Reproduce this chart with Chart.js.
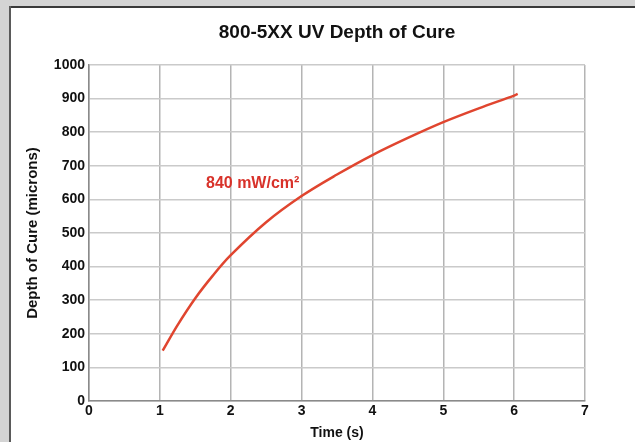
<!DOCTYPE html>
<html>
<head>
<meta charset="utf-8">
<script src="https://cdn.jsdelivr.net/npm/chart.js@4/dist/chart.umd.min.js"></script>
<style>
  html, body { margin: 0; padding: 0; background: #d4d4d4; }
  #wrap { position: absolute; left: 0; top: 0; width: 635px; height: 442px; }
</style>
</head>
<body>
<div id="wrap"><canvas id="cure" width="635" height="442"></canvas></div>
<script>
// time (s) vs depth of cure (microns)
const timeSec = [1.04, 1.25, 1.5, 1.75, 2, 2.5, 3, 3.5, 4, 4.5, 5, 5.5, 6, 6.05]
const depthMicrons = [150, 226, 306, 374, 434, 532, 610, 674, 732, 783, 830, 871, 909, 914]
const seriesLabel = '840 mW/cm\u00B2'
const chartTitle = '800-5XX UV Depth of Cure'
const xTicks = [0, 1, 2, 3, 4, 5, 6, 7]
const yTicks = [0, 100, 200, 300, 400, 500, 600, 700, 800, 900, 1000]

const FONT = "'Liberation Sans', Arial, sans-serif"

// grey page with white panel behind the chart
const panel = {
    id: 'panel',
    beforeDraw(chart) {
        const ctx = chart.ctx
        ctx.save()
        ctx.fillStyle = '#d4d4d4'
        ctx.fillRect(0, 0, chart.width, chart.height)
        ctx.fillStyle = '#ffffff'
        ctx.fillRect(10, 8, chart.width - 10, chart.height - 8)
        ctx.fillStyle = '#3a3a3a'
        ctx.fillRect(9, 6, chart.width - 9, 2)
        ctx.fillStyle = '#5a5a5a'
        ctx.fillRect(9, 6, 2, chart.height - 6)
        ctx.restore()
    }
}

// title centred over the plot, plus series name next to the curve
const labels = {
    id: 'labels',
    afterDatasetsDraw(chart) {
        const ctx = chart.ctx
        const area = chart.chartArea
        ctx.save()
        ctx.textAlign = 'center'
        ctx.textBaseline = 'middle'
        ctx.fillStyle = '#111'
        ctx.font = 'bold 19px ' + FONT
        ctx.fillText(chartTitle, (area.left + area.right) / 2, 33)

        const x = chart.scales.x.getPixelForValue(2.31)
        const y = chart.scales.y.getPixelForValue(648)
        ctx.fillStyle = '#d8322a'
        ctx.font = 'bold 16px ' + FONT
        ctx.fillText(seriesLabel, x, y)
        ctx.restore()
    }
}

new Chart(document.getElementById('cure'), {
    type: 'scatter',
    data: {
        datasets: [{
            label: seriesLabel,
            data: timeSec.map((t, i) => ({ x: t, y: depthMicrons[i] })),
            showLine: true,
            borderColor: '#e0452f',
            borderWidth: 2.5,
            pointRadius: 0,
            tension: 0.35
        }]
    },
    options: {
        responsive: false,
        animation: false,
        layout: { padding: { left: 0, right: 50, top: 65, bottom: 0 } },
        plugins: {
            legend: { display: false },
            tooltip: { enabled: false },
            title: { display: false }
        },
        scales: {
            x: {
                type: 'linear',
                min: 0,
                max: 7,
                afterBuildTicks: (axis) => { axis.ticks = xTicks.map(v => ({ value: v })) },
                afterFit: (axis) => { axis.height = 41 },
                grid: { color: '#b4b4b4', lineWidth: 1.5, drawTicks: false },
                border: { color: '#8a8a8a', width: 1.5 },
                ticks: {
                    color: '#111',
                    padding: 2,
                    font: { family: FONT, size: 14, weight: 'bold' }
                },
                title: {
                    display: true,
                    text: 'Time (s)',
                    color: '#111',
                    padding: { top: 0, bottom: 0 },
                    font: { family: FONT, size: 14, weight: 'bold' }
                }
            },
            y: {
                min: 0,
                max: 1000,
                afterBuildTicks: (axis) => { axis.ticks = yTicks.map(v => ({ value: v })) },
                afterFit: (axis) => { axis.width = 89 },
                grid: { color: '#cacaca', lineWidth: 1.5, drawTicks: false },
                border: { color: '#8a8a8a', width: 1.5 },
                ticks: {
                    color: '#111',
                    padding: 4,
                    callback: (v) => String(v),
                    font: { family: FONT, size: 14, weight: 'bold' }
                },
                title: {
                    display: true,
                    text: 'Depth of Cure (microns)',
                    color: '#111',
                    padding: { top: 24, bottom: 0 },
                    font: { family: FONT, size: 15, weight: 'bold' }
                }
            }
        }
    },
    plugins: [panel, labels]
})
</script>
</body>
</html>
